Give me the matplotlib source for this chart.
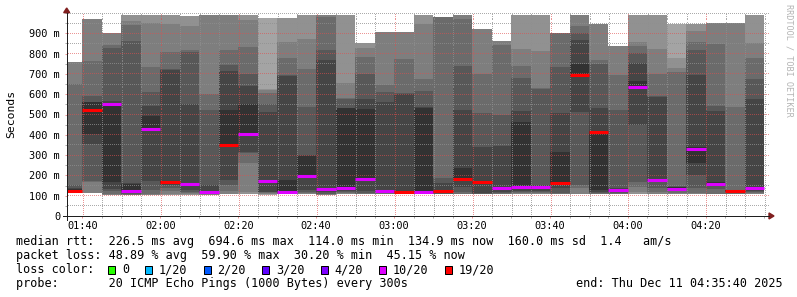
import math
import numpy as np
import matplotlib
matplotlib.use("Agg")
import matplotlib.pyplot as plt
import matplotlib.dates as mdates
from matplotlib.patches import Rectangle, Polygon
from matplotlib.lines import Line2D
from matplotlib.ticker import FixedLocator, FuncFormatter
from datetime import datetime, timedelta

# ---------------- data ----------------
bin_start = ["01:35", "01:40", "01:45", "01:50", "01:55",
             "02:00", "02:05", "02:10", "02:15", "02:20", "02:25", "02:30",
             "02:35", "02:40", "02:45", "02:50", "02:55",
             "03:00", "03:05", "03:10", "03:15", "03:20", "03:25", "03:30",
             "03:35", "03:40", "03:45", "03:50", "03:55",
             "04:00", "04:05", "04:10", "04:15", "04:20", "04:25", "04:30"]

median_ms = [123, 523, 551, 124, 431, 165, 156, 118, 348, 403, 173, 118,
             195, 133, 137, 182, 124, 117, 116, 121, 183, 165, 136, 144,
             141, 164, 696, 413, 128, 636, 175, 134, 330, 159, 124, 137]

median_loss = [19, 19, 10, 10, 10, 19, 10, 10, 19, 10, 10, 10,
               10, 10, 10, 10, 10, 19, 10, 19, 19, 19, 10, 10,
               10, 19, 19, 19, 10, 10, 10, 10, 10, 10, 19, 10]

# sorted successful ping times (ms) per 5-minute step
smoke_ms = [
    [112, 115, 120, 125, 128, 132, 140, 152, 648, 758],
    [114, 167, 170, 357, 402, 562, 564, 592, 763, 970],
    [103, 110, 125, 132, 168, 552, 566, 829, 842, 901],
    [101, 103, 105, 110, 118, 122, 158, 162, 863, 940, 962, 990],
    [103, 105, 110, 128, 172, 425, 494, 541, 612, 735, 953, 990],
    [103, 110, 125, 140, 155, 160, 170, 720, 722, 809, 948, 990],
    [105, 108, 112, 120, 130, 150, 160, 551, 809, 817, 935, 985],
    [103, 108, 112, 116, 117, 120, 152, 522, 600, 990],
    [106, 122, 152, 177, 340, 522, 714, 743, 820, 990],
    [106, 119, 259, 310, 316, 400, 554, 640, 699, 834, 965, 990],
    [105, 106, 110, 114, 117, 119, 170, 176, 513, 554, 607, 623, 625, 976],
    [106, 108, 110, 112, 114, 116, 177, 690, 694, 776, 858, 976],
    [106, 110, 115, 119, 130, 185, 295, 300, 538, 723, 870, 990],
    [104, 106, 110, 120, 130, 136, 768, 817, 981, 990],
    [106, 110, 114, 118, 122, 130, 530, 532, 576, 580, 653, 990],
    [106, 108, 110, 115, 124, 175, 525, 574, 699, 784, 830, 850],
    [106, 110, 115, 118, 122, 128, 563, 612, 645, 907],
    [106, 110, 112, 114, 116, 120, 600, 607, 773, 906],
    [106, 108, 110, 112, 114, 115, 530, 538, 615, 674, 945, 990],
    [106, 110, 114, 117, 122, 160, 185, 981],
    [106, 110, 120, 144, 180, 238, 522, 740, 970, 990],
    [106, 108, 110, 112, 160, 169, 341, 505, 699, 921],
    [106, 108, 112, 118, 130, 140, 346, 497, 842, 861],
    [106, 110, 115, 119, 123, 140, 464, 517, 681, 740, 822, 990],
    [106, 110, 115, 118, 125, 135, 146, 152, 628, 630, 812, 990],
    [106, 112, 136, 160, 316, 508, 735, 903],
    [106, 136, 152, 513, 690, 751, 866, 904, 937, 990],
    [106, 110, 115, 120, 128, 420, 533, 747, 771, 945],
    [106, 110, 115, 120, 125, 131, 136, 522, 694, 838],
    [106, 120, 144, 169, 448, 630, 664, 756, 801, 838, 858, 990],
    [106, 110, 120, 136, 170, 172, 178, 585, 591, 702, 825, 990],
    [106, 108, 110, 112, 130, 135, 138, 144, 145, 150, 709, 727, 776, 948],
    [106, 108, 111, 136, 200, 262, 340, 694, 820, 855, 911, 948],
    [106, 110, 133, 150, 155, 165, 518, 541, 847, 953],
    [106, 110, 118, 120, 122, 126, 128, 130, 535, 953],
    [106, 110, 115, 120, 125, 132, 142, 576, 674, 776, 850, 990],
]

loss_steps = [0, 1, 2, 3, 4, 10, 19]
loss_labels = ["0", "1/20", "2/20", "3/20", "4/20", "10/20", "19/20"]
loss_colors = ["#26ff00", "#00b8ff", "#0059ff", "#5e00ff", "#7e00ff", "#dd00ff", "#ff0000"]

y_ticks_ms = [0, 100, 200, 300, 400, 500, 600, 700, 800, 900]

line_rtt = "median rtt:  226.5 ms avg  694.6 ms max  114.0 ms min  134.9 ms now  160.0 ms sd  1.4   am/s"
line_loss = "packet loss: 48.89 % avg  59.90 % max  30.20 % min  45.15 % now"
line_probe = "probe:       20 ICMP Echo Pings (1000 Bytes) every 300s"
line_end = "end: Thu Dec 11 04:35:40 2025"
pings_total = 20

# ---------------- figure ----------------
W, H = 797, 297
fig = plt.figure(figsize=(W / 100, H / 100), dpi=100, facecolor="white")

def fx(x):
    return x / W

def fy(y):
    return 1 - y / H

ax_left, ax_right = 66.7, 768.3
y0_px, y1000_px = 215.96, 13.04
ax = fig.add_axes([fx(ax_left), fy(y0_px), (ax_right - ax_left) / W, (y0_px - y1000_px) / H])
ax.set_facecolor("white")

MONO = "DejaVu Sans Mono"
day = datetime(2025, 12, 11)
starts = [day + timedelta(hours=int(s[:2]), minutes=int(s[3:])) for s in bin_start]
xs = mdates.date2num(starts)
w = 5 / 1440.0

def smoke_gray(i):
    c = int(190 / 10 * (10 - i)) + 50
    return "#%02x%02x%02x" % (c, c, c)

for k, pings in enumerate(smoke_ms):
    n = len(pings)
    first = (pings_total // 2 + 1) - n // 2
    for j in range(n // 2):
        lo, hi = pings[j], pings[n - 1 - j]
        ax.bar(xs[k], hi - lo, bottom=lo, width=w, align="edge",
               color=smoke_gray(first + j), linewidth=0, antialiased=False, zorder=1)

col_of = dict(zip(loss_steps, loss_colors))
ax.hlines(median_ms, xs, xs + w, colors=[col_of[l] for l in median_loss],
          linewidth=2.2, zorder=3)

t_start = day + timedelta(hours=1, minutes=36)
t_end = day + timedelta(hours=4, minutes=36)
ax.set_xlim(mdates.date2num(t_start), mdates.date2num(t_end))
ax.set_ylim(0, 1000)

ax.xaxis.set_major_locator(mdates.MinuteLocator(byminute=[0, 20, 40]))
ax.xaxis.set_minor_locator(mdates.MinuteLocator(byminute=list(range(0, 60, 5))))
ax.xaxis.set_major_formatter(mdates.DateFormatter("%H:%M"))
ax.yaxis.set_major_locator(FixedLocator(y_ticks_ms))
ax.yaxis.set_minor_locator(FixedLocator([v + 50 for v in y_ticks_ms] + [1000]))
ax.yaxis.set_major_formatter(FuncFormatter(lambda v, p: "0" if v == 0 else "%d m" % v))

GRID = (0.56, 0.56, 0.56, 0.75)
MGRID = (0.87, 0.31, 0.31, 0.60)
ax.tick_params(which="major", length=1.5, width=0.72, color=MGRID)
ax.tick_params(which="minor", length=1.5, width=0.72, color=GRID)
ax.tick_params(axis="x", which="major", pad=2.4)
ax.tick_params(axis="y", which="major", pad=3.3)
for lab in ax.get_xticklabels() + ax.get_yticklabels():
    lab.set_family(MONO)
    lab.set_fontsize(7.4)
    lab.set_color("black")
for s in ax.spines.values():
    s.set_visible(False)

# dotted grid (1 px on / 1 px off) placed on whole pixels via the axes transform
trans = ax.transData
inv = trans.inverted()
bb = ax.bbox
xpix = np.arange(math.ceil(bb.x0) + 0.5, bb.x1, 2.0)
ypix = np.arange(math.ceil(bb.y0) + 0.5, bb.y1, 2.0)

def dotted_grid(xvals, yvals, color):
    pts = []
    for xv in xvals:
        px = math.floor(trans.transform((xv, 0))[0]) + 0.5
        pts.extend([(px, py) for py in ypix])
    for yv in yvals:
        py = min(math.floor(trans.transform((0, yv))[1]) + 0.5, bb.y1 - 0.5)
        pts.extend([(px, py) for px in xpix])
    if pts:
        d = inv.transform(np.array(pts))
        ax.plot(d[:, 0], d[:, 1], ",", color=color, linestyle="none",
                zorder=2.5, clip_on=False)

xmaj = [v for v in ax.xaxis.get_majorticklocs()]
xmin = [v for v in ax.xaxis.get_minorticklocs()]
ymaj = [v for v in y_ticks_ms if v > 0]
ymin = [v + 50 for v in y_ticks_ms] + [1000]
dotted_grid(xmin, ymin, GRID)
dotted_grid(xmaj, ymaj, MGRID)
ax.set_xlim(mdates.date2num(t_start), mdates.date2num(t_end))
ax.set_ylim(0, 1000)

# axes lines with arrows (figure pixel coords)
AXIS = (0.12, 0.12, 0.12)
ARROW = (0.50, 0.12, 0.12)
fig.add_artist(Line2D([fx(62.7), fx(769)], [fy(y0_px), fy(y0_px)], color=AXIS, lw=0.72))
fig.add_artist(Line2D([fx(ax_left), fx(ax_left)], [fy(y0_px + 4), fy(12.7)], color=AXIS, lw=0.72))
fig.add_artist(Polygon([[fx(769), fy(y0_px - 3)], [fx(769), fy(y0_px + 3)], [fx(774), fy(y0_px)]],
                       closed=True, color=ARROW, transform=fig.transFigure))
fig.add_artist(Polygon([[fx(ax_left - 3), fy(12.7)], [fx(ax_left + 3), fy(12.7)], [fx(ax_left), fy(8)]],
                       closed=True, color=ARROW, transform=fig.transFigure))

# labels
fig.text(fx(10.8), fy(114), "Seconds", rotation=90, ha="center", va="center",
         fontsize=8.2, family=MONO, color="black")
fig.text(fx(788.5), fy(60), "RRDTOOL / TOBI OETIKER", rotation=270, ha="center", va="center",
         fontsize=6.1, family=MONO, color="#b4b4b4")

LEG_FS = 8.5
fig.text(fx(16), fy(245.3), line_rtt, ha="left", va="baseline", fontsize=LEG_FS, family=MONO)
fig.text(fx(16), fy(259.3), line_loss, ha="left", va="baseline", fontsize=LEG_FS, family=MONO)
fig.text(fx(16), fy(273.3), "loss color:", ha="left", va="baseline", fontsize=LEG_FS, family=MONO)
fig.text(fx(16), fy(287.3), line_probe, ha="left", va="baseline", fontsize=LEG_FS, family=MONO)
fig.text(fx(783), fy(287.3), line_end, ha="right", va="baseline", fontsize=LEG_FS, family=MONO)

cw = 7.11
bx = 108.3
for lab, col in zip(loss_labels, loss_colors):
    fig.add_artist(Rectangle((fx(bx), fy(273.5)), 7 / W, 8 / H, transform=fig.transFigure,
                             facecolor=col, edgecolor="black", linewidth=0.72))
    tx = bx + 13.5
    fig.text(fx(tx), fy(273.3), lab, ha="left", va="baseline", fontsize=LEG_FS, family=MONO)
    bx = tx + len(lab) * cw + 16.5

fig.savefig("out.png", dpi=100, facecolor="white")
